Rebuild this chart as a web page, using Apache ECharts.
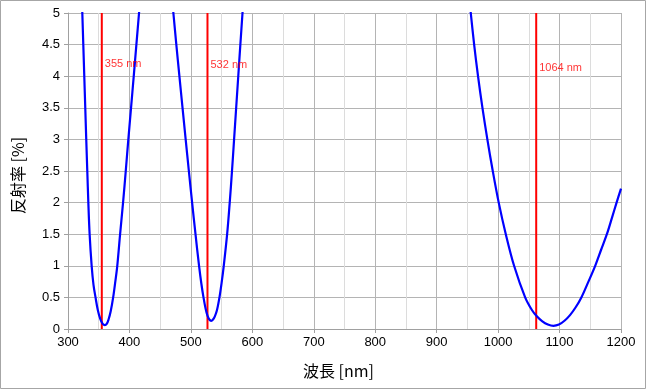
<!DOCTYPE html>
<html><head><meta charset="utf-8">
<script src="https://cdn.jsdelivr.net/npm/echarts@6/dist/echarts.min.js"></script>
<style>html,body{margin:0;padding:0;background:#fff}#c{width:650px;height:390px}</style>
</head><body><div id="c"></div>
<script>
// Reflectance curve segments (wavelength nm, reflectance %)
const seg1 = [[321.5,5.6],[323.3,5.0],[324.9,4.5],[326.5,4.0],[328.1,3.5],[329.7,3.0],[331.4,2.5],[333.1,2.0],[335.2,1.5],[338.5,1.0],[341.5,0.7],[344.8,0.5],[348.5,0.3],[352.5,0.16],[356.5,0.08],[360,0.06],[363,0.08],[366,0.15],[369.5,0.28],[373.5,0.5],[377,0.75],[380.2,1.0],[384.8,1.5],[389.6,2.0],[394,2.5],[398.2,3.0],[402.6,3.5],[407,4.0],[411.3,4.5],[415.6,5.0],[420,5.5]];
const seg2 = [[466.5,5.5],[471.5,5.0],[476.3,4.5],[481.3,4.0],[486.4,3.5],[491.5,3.0],[496.7,2.5],[502,2.0],[507.5,1.5],[513.3,1.0],[517,0.72],[520.5,0.5],[524,0.32],[527,0.21],[530,0.15],[533,0.13],[536,0.15],[539,0.2],[542.5,0.3],[546.5,0.5],[550,0.73],[553.5,1.0],[559,1.5],[563.2,2.0],[566.9,2.5],[570.3,3.0],[573.7,3.5],[577.1,4.0],[580.5,4.5],[584,5.0],[588,5.6]];
const seg3 = [[950,5.5],[955.5,5.0],[961,4.5],[967.3,4.0],[974.5,3.5],[982.5,3.0],[991.3,2.5],[1001,2.0],[1012.5,1.5],[1026,1.0],[1044,0.5],[1055,0.3],[1063,0.2],[1072,0.12],[1081,0.07],[1090,0.05],[1099,0.07],[1108,0.13],[1117,0.22],[1126,0.34],[1135.5,0.5],[1147,0.75],[1158,1.0],[1167.5,1.25],[1177,1.5],[1185,1.75],[1192.8,2.0],[1200,2.22]];
// Laser wavelength markers: drawn position, label text, label height
const laserPos = [355, 527, 1062];
const laserLabels = ['355 nm', '532 nm', '1064 nm'];
const labelY = [4.2, 4.17, 4.13];
const xTicks = [300,400,500,600,700,800,900,1000,1100,1200];
const yTicks = [0,0.5,1,1.5,2,2.5,3,3.5,4,4.5,5];

const chart = echarts.init(document.getElementById('c'));
const series = [];
[seg1, seg2, seg3].forEach(s => series.push({
  type:'line', data:s, smooth:0.35, symbol:'none', clip:true,
  lineStyle:{color:'#0000ff', width:2.2}, z:5
}));
laserPos.forEach((p,i) => {
  series.push({type:'line', data:[[p,0],[p,5]], symbol:'none', lineStyle:{color:'#ff0000', width:2}, z:4});
  series.push({type:'scatter', data:[[p,labelY[i]]], symbolSize:0, z:6,
    label:{show:true, position:'right', distance:3, formatter:laserLabels[i], color:'#ff0000', fontSize:11, fontFamily:'Liberation Sans, Arial, sans-serif'}});
});
chart.setOption({
  animation:false,
  graphic:[{type:'rect', shape:{x:0.5,y:0.5,width:645,height:388}, style:{fill:'none', stroke:'#a6a6a6', lineWidth:1}, silent:true}],
  grid:{left:68, right:29, top:13, bottom:61},
  xAxis:{type:'value', min:300, max:1200, interval:100,
    name:'波長 [nm]', nameLocation:'middle', nameGap:34,
    nameTextStyle:{fontSize:16, color:'#000', fontFamily:'Noto Sans CJK JP', padding:[0,12,0,0]},
    axisLine:{show:true, lineStyle:{color:'#a0a0a0'}},
    axisTick:{show:true, length:4, lineStyle:{color:'#a0a0a0'}},
    axisLabel:{color:'#000', fontSize:13, margin:7, fontFamily:'Liberation Sans, Arial, sans-serif',
      formatter:v => xTicks.includes(v) ? String(v) : ''},
    splitLine:{show:true, lineStyle:{color:'#b4b4b4', width:1}},
    minorTick:{show:false, splitNumber:2},
    minorSplitLine:{show:true, lineStyle:{color:'#dcdcdc', width:1}}
  },
  yAxis:{type:'value', min:0, max:5, interval:0.5,
    name:'反射率 [%]', nameLocation:'middle', nameGap:42, nameRotate:90,
    nameTextStyle:{fontSize:16, color:'#000', fontFamily:'Noto Sans CJK JP', padding:[0,9,0,0]},
    axisLine:{show:true, lineStyle:{color:'#a0a0a0'}},
    axisTick:{show:true, length:4, lineStyle:{color:'#a0a0a0'}},
    axisLabel:{color:'#000', fontSize:13, margin:8, fontFamily:'Liberation Sans, Arial, sans-serif',
      formatter:v => yTicks.includes(v) ? String(v) : ''},
    splitLine:{show:true, lineStyle:{color:'#b4b4b4', width:1}}
  },
  series:series
});
</script></body></html>
